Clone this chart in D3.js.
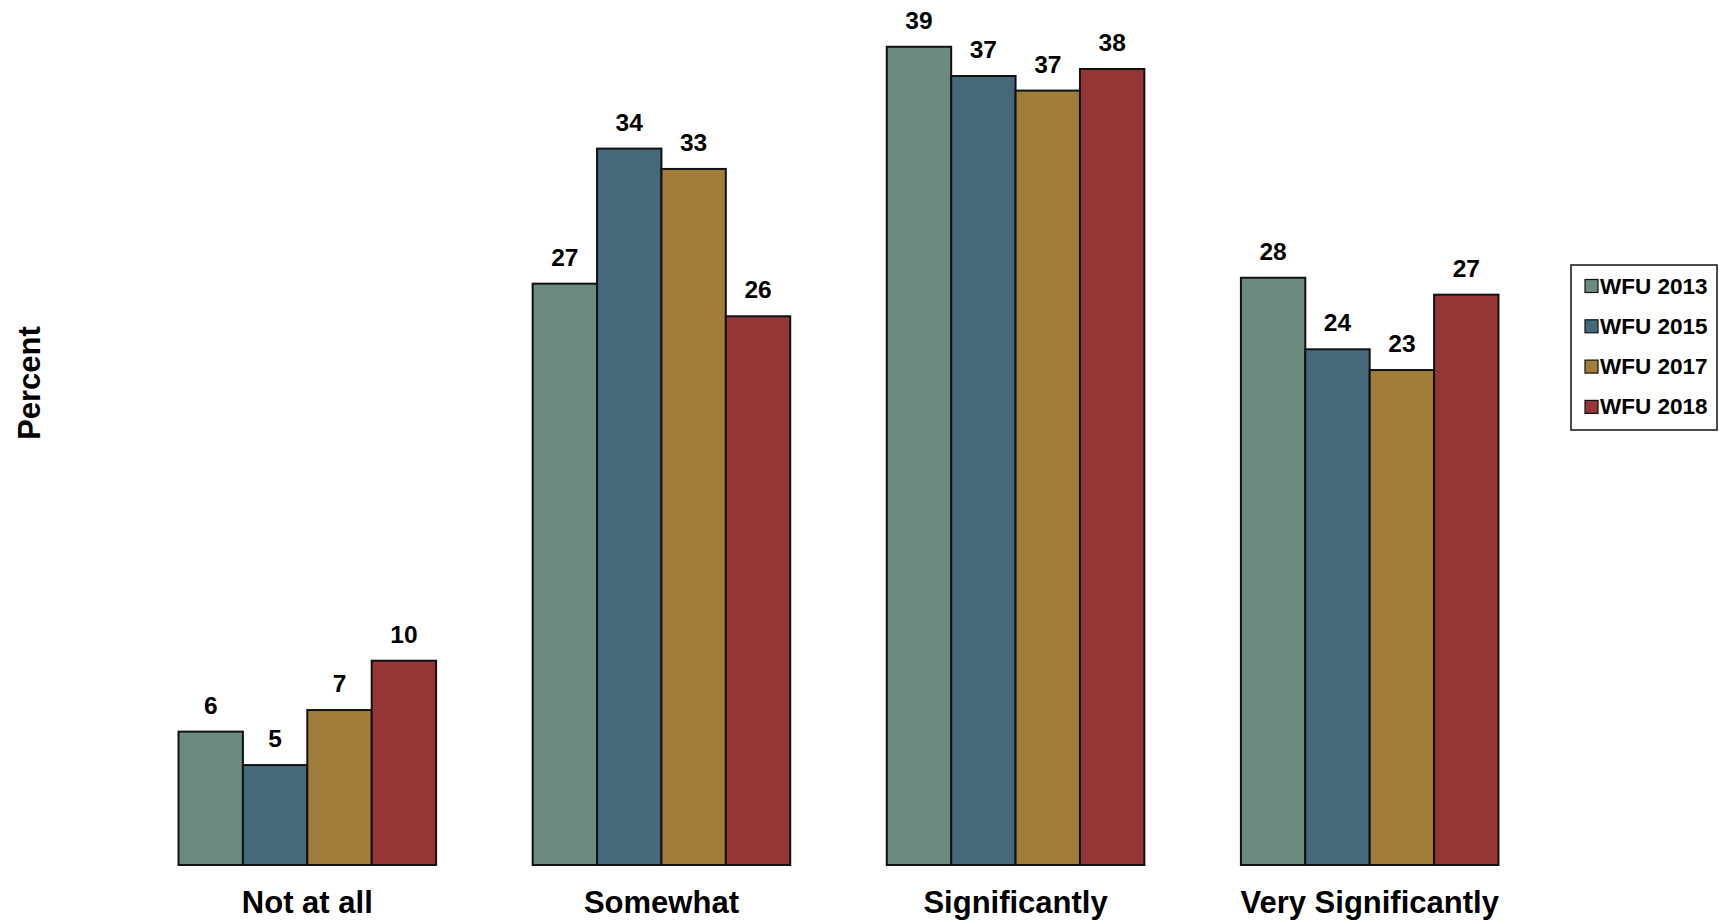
<!DOCTYPE html>
<html>
<head>
<meta charset="utf-8">
<script src="https://cdn.jsdelivr.net/npm/d3@7"></script>
<style>
  html, body { margin: 0; padding: 0; background: #fff; }
  svg { display: block; font-family: "Liberation Sans", Arial, Helvetica, sans-serif; }
</style>
</head>
<body>
<svg id="chart" width="1719" height="922"></svg>
<script>
// Data
const categories = ["Not at all", "Somewhat", "Significantly", "Very Significantly"];
const seriesNames = ["WFU 2013", "WFU 2015", "WFU 2017", "WFU 2018"];
const wfu2013 = [6.3, 27.46, 38.65, 27.74];
const wfu2015 = [4.72, 33.84, 37.27, 24.36];
const wfu2017 = [7.32, 32.88, 36.58, 23.38];
const wfu2018 = [9.65, 25.92, 37.6, 26.94];
const seriesColors = ["#6A8B7E", "#45687B", "#A07D39", "#943636"];

const seriesValues = [wfu2013, wfu2015, wfu2017, wfu2018];
const rows = [];
categories.forEach((c, i) => {
  seriesNames.forEach((s, j) => rows.push({ cat: c, series: s, value: seriesValues[j][i], color: seriesColors[j] }));
});

const svg = d3.select("#chart");

const x = d3.scaleBand().domain(categories).range([90, 1587]).paddingInner(0.2727).paddingOuter(0.25);
const xs = d3.scaleBand().domain(seriesNames).range([0, x.bandwidth()]).padding(0);
const y = d3.scaleLinear().domain([0, 40]).range([865, 865 - 40 * 21.17]);

// Bars
svg.append("g").selectAll("rect").data(rows).join("rect")
  .attr("x", d => x(d.cat) + xs(d.series))
  .attr("y", d => y(d.value))
  .attr("width", xs.bandwidth())
  .attr("height", d => y(0) - y(d.value))
  .attr("fill", d => d.color)
  .attr("stroke", "#111")
  .attr("stroke-width", 2);

// Value labels
svg.append("g").selectAll("text").data(rows).join("text")
  .attr("x", d => x(d.cat) + xs(d.series) + xs.bandwidth() / 2)
  .attr("y", d => y(d.value) - 18)
  .attr("text-anchor", "middle")
  .attr("font-size", 24.5)
  .attr("font-weight", "bold")
  .attr("fill", "#000")
  .text(d => Math.round(d.value));

// Category axis (labels only)
const xAxis = svg.append("g").attr("transform", `translate(0,${y(0)})`)
  .call(d3.axisBottom(x).tickSize(0).tickPadding(0));
xAxis.select(".domain").remove();
xAxis.selectAll("text")
  .attr("y", 48)
  .attr("dy", 0)
  .attr("font-size", 31)
  .attr("font-weight", "bold")
  .attr("font-family", "\"Liberation Sans\", Arial, sans-serif")
  .attr("fill", "#000");

// Y axis title
svg.append("text")
  .attr("transform", "translate(40,383) rotate(-90)")
  .attr("text-anchor", "middle")
  .attr("font-size", 31)
  .attr("font-weight", "bold")
  .attr("fill", "#000")
  .text("Percent");

// Legend
const legend = svg.append("g");
legend.append("rect")
  .attr("x", 1571).attr("y", 265).attr("width", 146).attr("height", 165)
  .attr("fill", "#fff").attr("stroke", "#111").attr("stroke-width", 1.5);
const items = legend.selectAll("g.item").data(seriesNames).join("g")
  .attr("class", "item")
  .attr("transform", (d, i) => `translate(1585,${286 + i * 40.3})`);
items.append("rect")
  .attr("x", 0).attr("y", -6.5).attr("width", 13).attr("height", 13)
  .attr("fill", (d, i) => seriesColors[i]).attr("stroke", "#111").attr("stroke-width", 1.2);
items.append("text")
  .attr("x", 15).attr("y", 7.5)
  .attr("font-size", 22.5)
  .attr("font-weight", "bold")
  .attr("fill", "#000")
  .text(d => d);
</script>
</body>
</html>
